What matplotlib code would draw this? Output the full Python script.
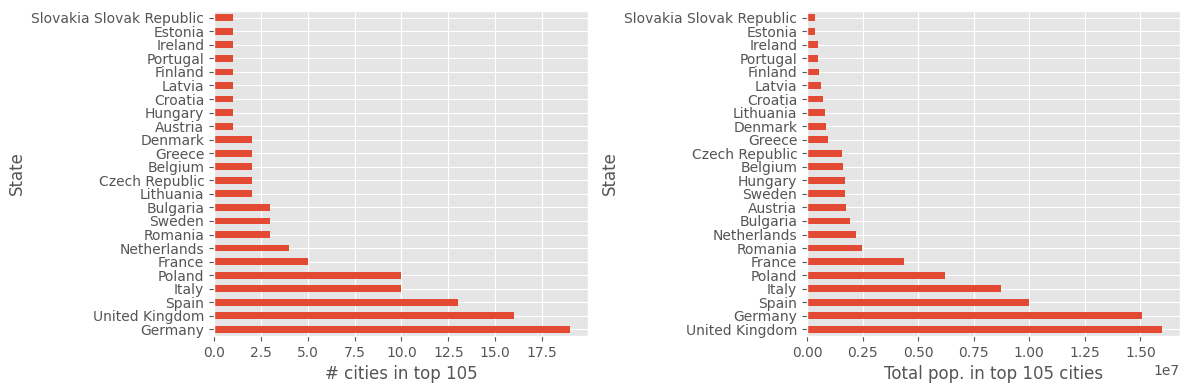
import matplotlib
matplotlib.use("Agg")
import matplotlib.pyplot as plt
import pandas as pd

plt.style.use("ggplot")

# -- Data ---------------------------------------------------------------------
count_states = [
    "Germany", "United Kingdom", "Spain", "Italy", "Poland", "France",
    "Netherlands", "Romania", "Sweden", "Bulgaria", "Lithuania",
    "Czech Republic", "Belgium", "Greece", "Denmark", "Austria", "Hungary",
    "Croatia", "Latvia", "Finland", "Portugal", "Ireland", "Estonia",
    "Slovakia Slovak Republic",
]
city_counts = [19, 16, 13, 10, 10, 5, 4, 3, 3, 3, 2, 2, 2, 2, 2,
               1, 1, 1, 1, 1, 1, 1, 1, 1]

pop_states = [
    "United Kingdom", "Germany", "Spain", "Italy", "Poland", "France",
    "Romania", "Netherlands", "Bulgaria", "Austria", "Sweden", "Hungary",
    "Belgium", "Czech Republic", "Greece", "Denmark", "Lithuania", "Croatia",
    "Latvia", "Finland", "Portugal", "Ireland", "Estonia",
    "Slovakia Slovak Republic",
]
total_pop = [15980000, 15080000, 9990000, 8730000, 6210000, 4370000,
             2480000, 2210000, 1940000, 1760000, 1710000, 1710000,
             1620000, 1580000, 950000, 860000, 810000, 720000,
             630000, 540000, 500000, 500000, 360000, 360000]

counts = pd.Series(city_counts, index=pd.Index(count_states, name="State"))
pops = pd.Series(total_pop, index=pd.Index(pop_states, name="State"))

fig, axes = plt.subplots(1, 2, figsize=(11.89, 3.9), dpi=100)

counts.plot(kind="barh", ax=axes[0])
axes[0].set_xlabel("# cities in top 105")

pops.plot(kind="barh", ax=axes[1])
axes[1].set_xlabel("Total pop. in top 105 cities")

fig.subplots_adjust(left=0.180, right=0.9924, top=0.972, bottom=0.138, wspace=0.59)
axes[0].set_position([0.180, 0.138, 0.3145, 0.834])
axes[1].set_position([0.6787, 0.138, 0.3137, 0.834])

plt.savefig("out.png", dpi=100)
